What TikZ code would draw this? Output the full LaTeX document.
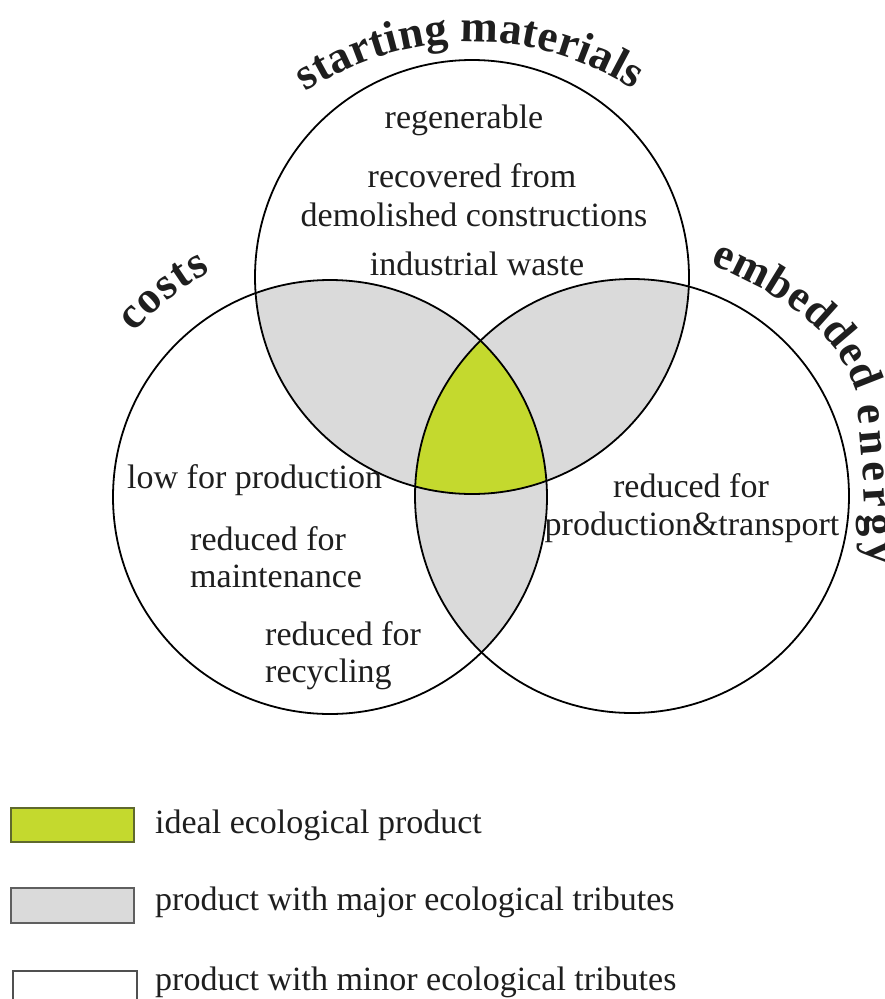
\documentclass[tikz,border=0pt]{standalone}
\usepackage{fontspec}
\setmainfont{Liberation Serif}
\usetikzlibrary{decorations.text}
\definecolor{idealgreen}{RGB}{196,217,46}
\definecolor{majorgray}{RGB}{218,218,218}
\definecolor{inktext}{RGB}{30,30,30}
\newcommand{\headfont}{\bfseries\fontsize{45}{45}\selectfont}
\newcommand{\headfontside}{\bfseries\fontsize{44.5}{44.5}\selectfont}
\begin{document}
\begin{tikzpicture}[x=1pt,y=1pt,
  ring/.style={draw=black, line width=1.8pt},
  body/.style={font=\fontsize{34}{38}\selectfont, inner sep=0pt, text=inktext},
  keybox/.style={minimum width=123pt, minimum height=34pt, inner sep=0pt, line width=1.4pt},
  arctext/.style={decorate, decoration={text along path, text align=fit to path, text color=inktext}}]
\useasboundingbox (0,0) rectangle (885,-999);
\fill[white] (0,0) rectangle (885,-999);

% circle centres
\coordinate (cT) at (472,-277);
\coordinate (cL) at (330,-497);
\coordinate (cR) at (632,-496);

% pairwise overlaps in grey
\begin{scope}
  \clip (cT) circle[radius=217pt];
  \fill[majorgray] (cL) circle[radius=217pt];
  \fill[majorgray] (cR) circle[radius=217pt];
\end{scope}
\begin{scope}
  \clip (cL) circle[radius=217pt];
  \fill[majorgray] (cR) circle[radius=217pt];
\end{scope}
% common overlap in green
\begin{scope}
  \clip (cT) circle[radius=217pt];
  \clip (cL) circle[radius=217pt];
  \fill[idealgreen] (cR) circle[radius=217pt];
\end{scope}

% circle outlines
\draw[ring] (cT) circle[radius=217pt];
\draw[ring] (cL) circle[radius=217pt];
\draw[ring] (cR) circle[radius=217pt];

% curved headings
\path[arctext, decoration={text={|\headfont|starting materials}}]
  (305.9,-92.0) arc[start angle=123.5, end angle=57.5, radius=301pt];
\path[arctext, decoration={text={|\headfont|costs}}]
  (134.7,-333.1) arc[start angle=140, end angle=118, radius=255pt];
\path[arctext, decoration={text={|\headfontside|embedded}}]
  (710,-265) .. controls (776,-290) and (840,-333) .. (856,-392);
\path[arctext, decoration={text={|\headfontside|energy}}]
  (857,-405) .. controls (862,-455) and (866,-510) .. (867,-565);

% starting materials
\node[body, anchor=base] (regen) at (464,-128) {regenerable};
\node[body, anchor=base] (recov) at (472,-187) {recovered from};
\node[body, anchor=base] (demol) at (474,-226) {demolished constructions};
\node[body, anchor=base] (waste) at (477,-275) {industrial waste};

% costs
\node[body, anchor=base west] (lowprod) at (127,-488) {low for production};
\node[body, anchor=base west] (maint1) at (190,-550) {reduced for};
\node[body, anchor=base west] (maint2) at (190,-587) {maintenance};
\node[body, anchor=base west] (recyc1) at (265,-645) {reduced for};
\node[body, anchor=base west] (recyc2) at (265,-682) {recycling};

% embedded energy
\node[body, anchor=base] (energy1) at (691,-497) {reduced for};
\node[body, anchor=base] (energy2) at (692,-535) {production\&transport};

% key
\node[keybox, draw={rgb,255:red,95;green,105;blue,45}, fill=idealgreen] (keyideal) at (72.5,-825) {};
\node[keybox, draw={rgb,255:red,95;green,95;blue,95}, fill=majorgray, minimum height=35pt] (keymajor) at (72.5,-905.5) {};
\node[keybox, draw={rgb,255:red,80;green,80;blue,80}, fill=white, minimum width=124pt, minimum height=36pt] (keyminor) at (75,-989) {};
\node[body, anchor=base west] (labideal) at (155,-833) {ideal ecological product};
\node[body, anchor=base west] (labmajor) at (155,-910) {product with major ecological tributes};
\node[body, anchor=base west] (labminor) at (155,-990) {product with minor ecological tributes};
\end{tikzpicture}
\end{document}
